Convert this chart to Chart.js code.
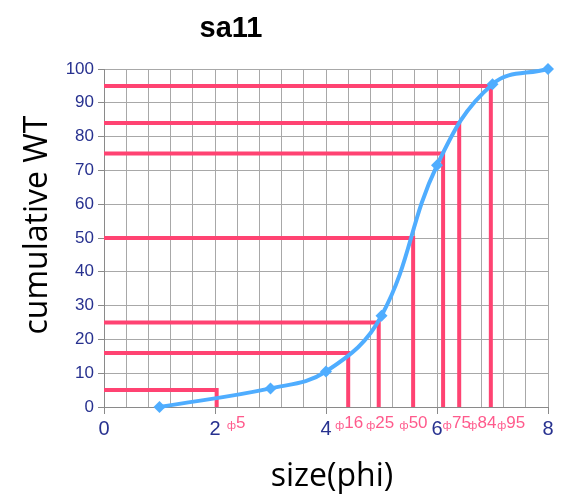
<!DOCTYPE html>
<html>
<head>
<meta charset="utf-8">
<script src="https://cdn.jsdelivr.net/npm/chart.js@4.4.1/dist/chart.umd.min.js"></script>
<style>
  html, body { margin: 0; padding: 0; background: #fff; }
  #wrap { width: 565px; height: 498px; position: relative; }
</style>
</head>
<body>
<div id="wrap"><canvas id="sizeChart" width="565" height="498"></canvas></div>
<script>
// measured cumulative curve
const phiValues = [1, 3, 4, 5, 6, 7, 8];
const cumulativeWT = [0, 5.5, 10.5, 27, 71.5, 95.5, 100];

// percentile read-offs (red guide lines)
const percentiles = [5, 16, 25, 50, 75, 84, 95];
const percentilePhi = [2.03, 4.40, 4.95, 5.57, 6.11, 6.40, 6.97];
const percentileLabels = ['5', '16', '25', '50', '75', '84', '95'];
const labelPhi = [2.21, 4.16, 4.72, 5.32, 6.10, 6.56, 7.08];

const xTickLabels = [0, 2, 4, 6, 8];
const yTickLabels = [0, 10, 20, 30, 40, 50, 60, 70, 80, 90, 100];

const RED = '#ff4372';
const BLUE = '#4fadff';
const TICK_COLOR = '#27318f';

function isLabelled(v) {
    return xTickLabels.some(t => Math.abs(t - v) < 1e-6);
}

// one dataset per percentile: across from the y axis, then down to the x axis
const guideSets = percentiles.map((p, i) => ({
    label: 'phi' + p,
    data: [{ x: 0, y: p }, { x: percentilePhi[i], y: p }, { x: percentilePhi[i], y: 0 }],
    borderColor: RED,
    borderWidth: 4,
    pointRadius: 0,
    tension: 0,
    fill: false
}));

// text that Chart.js has no slot for: main title, axis titles, phi labels
const textPlugin = {
    id: 'chartText',
    afterDraw(chart) {
        const ctx = chart.ctx;
        const xs = chart.scales.x;
        ctx.save();

        ctx.fillStyle = '#000';
        ctx.font = 'bold 29px "Liberation Sans", Arial, sans-serif';
        ctx.textAlign = 'center';
        ctx.textBaseline = 'alphabetic';
        ctx.fillText('sa11', 231, 37);

        ctx.font = '32px "Open Sans", sans-serif';
        ctx.fillText('size(phi)', 332, 486);

        ctx.save();
        ctx.translate(47, 225);
        ctx.rotate(-Math.PI / 2);
        ctx.fillText('cumulative WT', 0, 0);
        ctx.restore();

        // phi labels under the axis
        ctx.fillStyle = '#ff5a8c';
        ctx.textAlign = 'left';
        percentileLabels.forEach((txt, i) => {
            const x = xs.getPixelForValue(labelPhi[i]);
            ctx.font = '11px "DejaVu Sans", sans-serif';
            ctx.fillText('ф', x, 429);
            const w = ctx.measureText('ф').width;
            ctx.font = '17px "Liberation Sans", Arial, sans-serif';
            ctx.fillText(txt, x + w, 428);
        });

        ctx.restore();
    }
};

new Chart(document.getElementById('sizeChart'), {
    type: 'line',
    data: {
        datasets: [{
            label: 'cumulative WT',
            data: phiValues.map((p, i) => ({ x: p, y: cumulativeWT[i] })),
            borderColor: BLUE,
            backgroundColor: BLUE,
            borderWidth: 4,
            pointStyle: 'rectRot',
            pointRadius: 6,
            pointBorderWidth: 0,
            tension: 0.4,
            clip: false,
            fill: false
        }, ...guideSets]
    },
    options: {
        responsive: false,
        animation: false,
        layout: { padding: { top: 69, right: 17, bottom: 0, left: 0 } },
        plugins: {
            legend: { display: false },
            title: { display: false },
            tooltip: { enabled: false }
        },
        scales: {
            x: {
                type: 'linear',
                min: 0,
                max: 8,
                afterFit(scale) { scale.height = 91; },
                border: { color: '#8a8a8a', width: 1 },
                grid: {
                    color: '#a8a8a8',
                    lineWidth: 1,
                    tickLength: 7,
                    tickColor: ctx => isLabelled(ctx.tick.value) ? '#8a8a8a' : 'rgba(0,0,0,0)'
                },
                ticks: {
                    stepSize: 0.4,
                    autoSkip: false,
                    maxRotation: 0,
                    padding: 3,
                    color: TICK_COLOR,
                    font: { family: '"Liberation Sans", Arial, sans-serif', size: 20 },
                    callback: v => isLabelled(v) ? String(Math.round(v)) : ''
                }
            },
            y: {
                min: 0,
                max: 100,
                afterFit(scale) { scale.width = 104; },
                afterBuildTicks(scale) { scale.ticks = yTickLabels.map(v => ({ value: v })); },
                border: { color: '#8a8a8a', width: 1 },
                grid: { color: '#a8a8a8', lineWidth: 1, tickLength: 6, tickColor: '#8a8a8a' },
                ticks: {
                    padding: 4,
                    color: TICK_COLOR,
                    font: { family: '"Liberation Sans", Arial, sans-serif', size: 17 }
                }
            }
        }
    },
    plugins: [textPlugin]
});
</script>
</body>
</html>
